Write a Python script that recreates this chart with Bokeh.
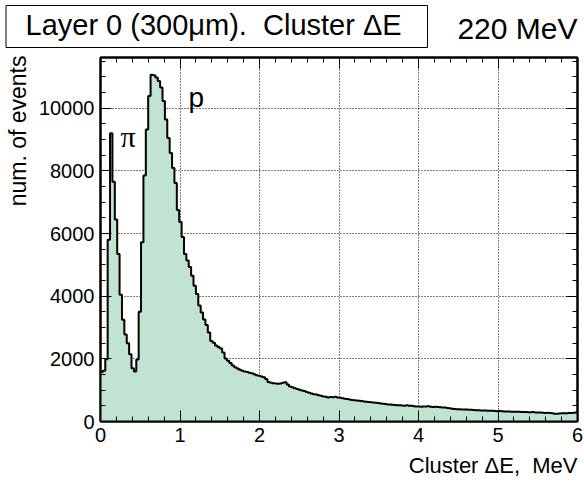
import math
from bokeh.plotting import figure
from bokeh.models import Range1d, LinearAxis, FixedTicker, Label, BoxAnnotation
from bokeh.embed import file_html
from bokeh.resources import INLINE

# ---------------- data ----------------
X_MIN, X_MAX = 0.0, 6.0
BIN_WIDTH = 0.03
Y_MAX = 11620

COUNTS = [
    1580, 1620, 1990, 5800, 9200, 7650, 6450, 5350, 4050, 3250,
    2780, 2500, 2150, 1700, 1600, 1980, 3500, 5720, 7850, 9320,
    10390, 11070, 11050, 10980, 10870, 10660, 10230, 9640, 9050, 8570,
    8090, 7610, 6750, 6370, 5890, 5350, 5140, 4930, 4650, 4330,
    4070, 3700, 3480, 3260, 3080, 2840, 2570, 2510, 2430, 2380,
    2330, 2200, 2010, 1940, 1870, 1790, 1730, 1690, 1650, 1620,
    1600, 1580, 1560, 1540, 1510, 1480, 1460, 1440, 1410, 1360,
    1260, 1235, 1220, 1210, 1205, 1215, 1240, 1250, 1180, 1120,
    1090, 1060, 1040, 1010, 990, 975, 940, 920, 890, 870,
    860, 840, 825, 800, 790, 770, 780, 775, 790, 770,
    760, 745, 730, 720, 700, 690, 680, 670, 660, 655,
    640, 630, 620, 615, 605, 600, 590, 575, 565, 560,
    545, 540, 535, 525, 520, 515, 510, 505, 515, 500,
    505, 490, 480, 475, 470, 480, 475, 485, 470, 465,
    470, 460, 455, 450, 445, 430, 420, 410, 400, 395,
    390, 385, 380, 380, 372, 375, 365, 360, 362, 355,
    350, 352, 345, 340, 342, 335, 330, 333, 325, 320,
    322, 318, 315, 312, 310, 315, 305, 300, 302, 298,
    295, 300, 290, 287, 285, 280, 275, 278, 270, 265,
    250, 245, 255, 260, 262, 265, 272, 275, 280, 287,
]

X_TICKS = [0, 1, 2, 3, 4, 5, 6]
X_MINOR = [round(0.2 * i, 1) for i in range(31)]
X_GRID = [1, 2, 3, 4, 5]
Y_TICKS = [0, 2000, 4000, 6000, 8000, 10000]
Y_MINOR = [500 * i for i in range(24)]
Y_GRID = [2000, 4000, 6000, 8000, 10000]

NB = "\u00a0"
TITLE = "Layer 0 (300\u03bcm)." + NB + " Cluster \u0394E"
ENERGY = "220 MeV"
X_TITLE = "Cluster \u0394E," + NB + " MeV"
Y_TITLE = "num. of events"

LEFTS = [X_MIN + i * BIN_WIDTH for i in range(len(COUNTS))]
RIGHTS = [l + BIN_WIDTH for l in LEFTS]

# ---------------- layout ----------------
W, H = 584, 484
TOP_H = 54                           # header strip height
FL, FR, FT, FB = 100, 577, 57, 421   # frame edges in page px
FONT = "Liberation Sans"
FILL = "#c0e3d2"
BASE_SHIFT = 0.42                    # em offset of Bokeh's alphabetic baseline


def dx(px):
    return X_MIN + (px - FL) / (FR - FL) * (X_MAX - X_MIN)


def dy(py):
    return (FB - py) / (FB - FT) * Y_MAX


def base(py, size):
    return py - BASE_SHIFT * size


# ---- header strip (title box + beam energy): its own root, full-width frame ----
head = figure(width=W, height=TOP_H, x_range=Range1d(0, W), y_range=Range1d(TOP_H, 0),
              output_backend="svg", toolbar_location=None,
              x_axis_location=None, y_axis_location=None, min_border=0,
              outline_line_color=None, background_fill_color="white",
              border_fill_color="white")
head.xgrid.visible = False
head.ygrid.visible = False
head.add_layout(BoxAnnotation(left=5.5, right=427, top=5, bottom=47,
                              fill_color="white", fill_alpha=1.0,
                              line_color="black", line_width=1, line_alpha=1.0))
head.add_layout(Label(x=25, y=base(37, 29), text=TITLE, text_font=FONT, text_color="black",
                      text_font_size="29px", text_baseline="alphabetic", text_align="left"))
head.add_layout(Label(x=577, y=base(41, 30), text=ENERGY, text_font=FONT, text_color="black",
                      text_font_size="30px", text_baseline="alphabetic", text_align="right"))

# ---- main histogram ----
p = figure(width=W, height=H - TOP_H, x_range=Range1d(X_MIN, X_MAX),
           y_range=Range1d(0, Y_MAX),
           output_backend="svg", toolbar_location=None,
           min_border_left=FL, min_border_right=W - FR,
           min_border_top=FT - TOP_H, min_border_bottom=H - FB,
           outline_line_color="black", outline_line_width=2,
           background_fill_color="white", border_fill_color="white")

xa = p.xaxis[0]
xa.ticker = FixedTicker(ticks=X_TICKS, minor_ticks=X_MINOR)
ya = p.yaxis[0]
ya.ticker = FixedTicker(ticks=Y_TICKS, minor_ticks=Y_MINOR)
for ax in (xa, ya):
    ax.major_tick_in = 11
    ax.major_tick_out = 0
    ax.minor_tick_in = 5
    ax.minor_tick_out = 0
    ax.axis_line_width = 2
    ax.major_label_text_font = FONT
    ax.major_label_text_font_size = "20px"
    ax.major_label_text_color = "black"
    ax.major_label_standoff = 6

xtop = LinearAxis(ticker=FixedTicker(ticks=X_TICKS, minor_ticks=X_MINOR),
                  major_tick_in=11, major_tick_out=0, minor_tick_in=5, minor_tick_out=0,
                  axis_line_width=2, major_label_text_font_size="0px", major_label_standoff=0,
                  major_label_overrides={t: "" for t in X_TICKS})
p.add_layout(xtop, "above")
yright = LinearAxis(ticker=FixedTicker(ticks=Y_TICKS, minor_ticks=Y_MINOR),
                    major_tick_in=11, major_tick_out=0, minor_tick_in=5, minor_tick_out=0,
                    axis_line_width=2, major_label_text_font_size="0px", major_label_standoff=0,
                    major_label_overrides={t: "" for t in Y_TICKS})
p.add_layout(yright, "right")

p.xgrid.ticker = FixedTicker(ticks=X_GRID)
p.ygrid.ticker = FixedTicker(ticks=Y_GRID)
p.grid.grid_line_color = "black"
p.grid.grid_line_dash = "1 2"
p.grid.grid_line_width = 1

p.quad(left=LEFTS, right=RIGHTS, bottom=0, top=COUNTS,
       fill_color=FILL, line_color=FILL, line_width=1)
p.step(x=LEFTS + [X_MAX], y=COUNTS + [COUNTS[-1]], mode="after",
       line_color="black", line_width=2)

# peak labels
p.add_layout(Label(x=dx(120), y=dy(base(148.5, 30)), text="\u03c0",
                   text_font="Liberation Serif", text_color="black", text_font_size="30px",
                   text_baseline="alphabetic", text_align="left"))
p.add_layout(Label(x=dx(188), y=dy(base(109, 28)), text="p", text_font=FONT,
                   text_color="black", text_font_size="28px",
                   text_baseline="alphabetic", text_align="left"))

# axis titles (in side panels so they are not clipped)
p.add_layout(Label(x=dx(577), y=dy(base(474, 22)), text=X_TITLE, text_font=FONT,
                   text_color="black", text_font_size="22px",
                   text_baseline="alphabetic", text_align="right"), "below")
p.add_layout(Label(x=dx(17), y=dy(55), text=Y_TITLE, text_font=FONT, text_color="black",
                   angle=math.pi / 2, text_font_size="23px",
                   text_baseline="middle", text_align="right"), "left")

open("out.html", "w").write(file_html([head, p], INLINE))
